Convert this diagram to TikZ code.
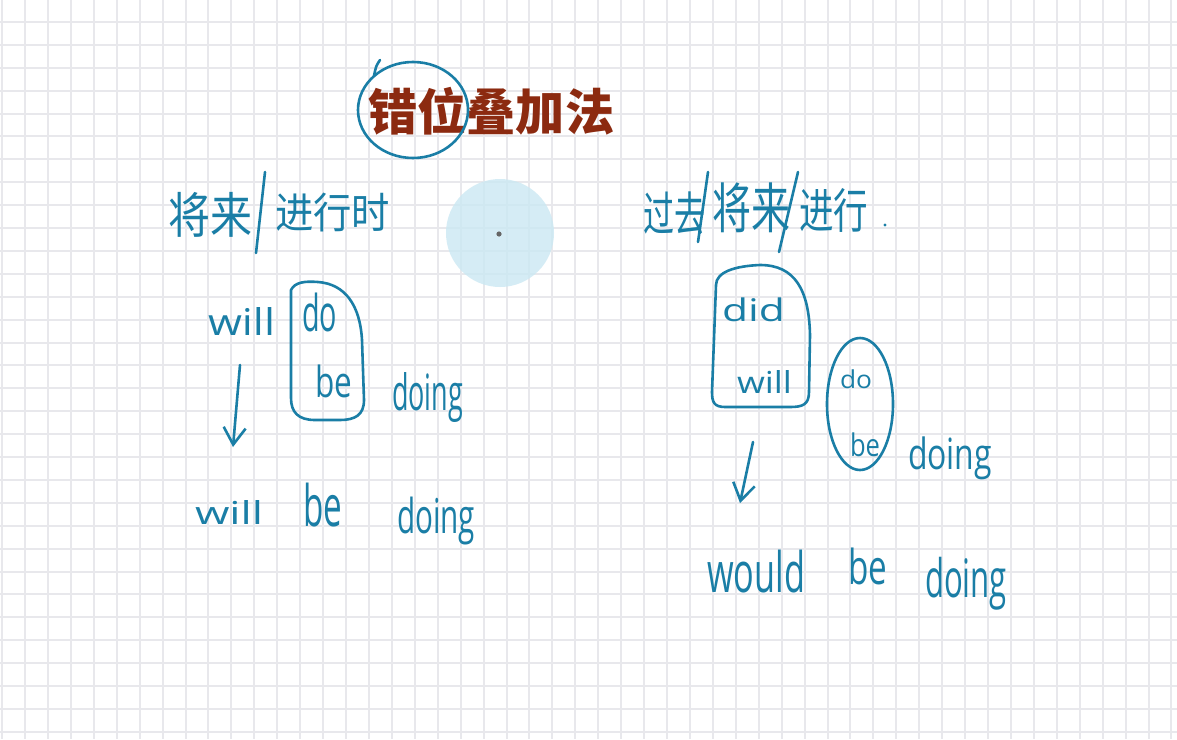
\documentclass[tikz,border=0pt]{standalone}
\usepackage{fontspec}
\usepackage{graphicx}
\setmainfont{Open Sans}
\newfontfamily\cjk{Noto Sans CJK SC}
\usetikzlibrary{arrows.meta}
\definecolor{ink}{HTML}{1A7EA6}
\definecolor{titlered}{HTML}{8C2A10}
\definecolor{gridc}{HTML}{E8E8EC}
\definecolor{hilite}{HTML}{CBE8F3}
\newcommand\hwbox[3]{\resizebox*{#1pt}{#2pt}{#3}}
\begin{document}
\begin{tikzpicture}[x=1pt,y=-1pt,
  hw/.style={draw=ink,line width=2.6pt,line cap=round,line join=round},
  word/.style={inner sep=0pt,outer sep=0pt,anchor=north west,text=ink},
  gridline/.style={draw=gridc,line width=2pt},
  hwarrow/.style={hw,-{Straight Barb[length=17pt,width=22pt,line width=2.6pt]}}]
\useasboundingbox (0,0) rectangle (1177,739);
\fill[white] (0,0) rectangle (1177,739);
% grid paper
\foreach \i in {0,...,51} \draw[gridline] ({round(2.07+22.93*\i)},0) -- ({round(2.07+22.93*\i)},739);
\foreach \j in {1,...,32} \draw[gridline] (0,{round(-0.9+22.9*\j)}) -- (1177,{round(-0.9+22.9*\j)});
% pointer highlight
\fill[hilite,opacity=0.8] (500,233) circle (54pt);
\fill[black!60] (499,234) circle (2.6pt);
% title
\node[anchor=north west,inner sep=0pt,text=titlered] (title) at (368,87) {\hwbox{246}{48}{\cjk\bfseries 错位叠加法}};
\draw[hw] (413,110) ellipse [x radius=55, y radius=48];
\draw[hw] (380,60) .. controls (376,66) .. (374,76);
% left heading
\node[word] (h1) at (168,192) {\hwbox{84}{45}{\cjk 将来}};
\node[word] (h2) at (275,193) {\hwbox{115}{39}{\cjk 进行时}};
\draw[hw] (265,172) -- (256,253);
% right heading
\node[word] (h3) at (643,192) {\hwbox{62}{43}{\cjk 过去}};
\node[word] (h4) at (712,183) {\hwbox{78}{50}{\cjk 将来}};
\node[word] (h5) at (799,188) {\hwbox{69}{44}{\cjk 进行}};
\draw[hw] (708,172) -- (698,242);
\draw[hw] (798,172) -- (779,252);
\fill[ink] (885,225) circle (1.7pt);
% left block
\node[word] (lwill) at (208,307) {\hwbox{67}{28}{will}};
\node[word] (ldo) at (302,293) {\hwbox{35}{39}{do}};
\node[word] (lbe) at (315,365) {\hwbox{37}{33}{be}};
\node[word] (ldoing) at (392,372) {\hwbox{71}{50}{doing}};
\draw[hw] (291,290) .. controls (295,282) and (305,281) .. (318,282)
  .. controls (345,284) and (360,305) .. (362,340) -- (364,400)
  .. controls (364,415) and (355,420) .. (340,420) -- (315,420)
  .. controls (298,420) and (291,412) .. (291,398) -- cycle;
\coordinate (la1) at (240,365);
\coordinate (la2) at (233,447);
\draw[hwarrow] (la1) -- (la2);
\node[word] (lwill2) at (195,500) {\hwbox{68}{24}{will}};
\node[word] (lbe2) at (303,483) {\hwbox{39}{44}{be}};
\node[word] (ldoing2) at (397,497) {\hwbox{78}{48}{doing}};
% right block
\node[word] (rdid) at (722,298) {\hwbox{63}{24}{did}};
\node[word] (rwill) at (737,370) {\hwbox{55}{23}{will}};
\draw[hw] (716,285) .. controls (716,272) and (735,266) .. (760,265)
  .. controls (795,265) and (809,290) .. (810,335) -- (809,392)
  .. controls (809,405) and (802,407) .. (790,407) -- (725,407)
  .. controls (714,407) and (712,402) .. (712,392) -- cycle;
\node[word] (rdo) at (840,370) {\hwbox{32}{19}{do}};
\node[word] (rbe) at (850,433) {\hwbox{30}{24}{be}};
\draw[hw] (860,404) ellipse [x radius=33, y radius=66];
\node[word] (rdoing) at (908,437) {\hwbox{84}{43}{doing}};
\coordinate (ra1) at (753,442);
\coordinate (ra2) at (740,503);
\draw[hwarrow] (ra1) -- (ra2);
\node[word] (rwould) at (707,550) {\hwbox{98}{43}{would}};
\node[word] (rbe2) at (848,548) {\hwbox{39}{37}{be}};
\node[word] (rdoing2) at (925,557) {\hwbox{82}{53}{doing}};
\end{tikzpicture}
\end{document}
